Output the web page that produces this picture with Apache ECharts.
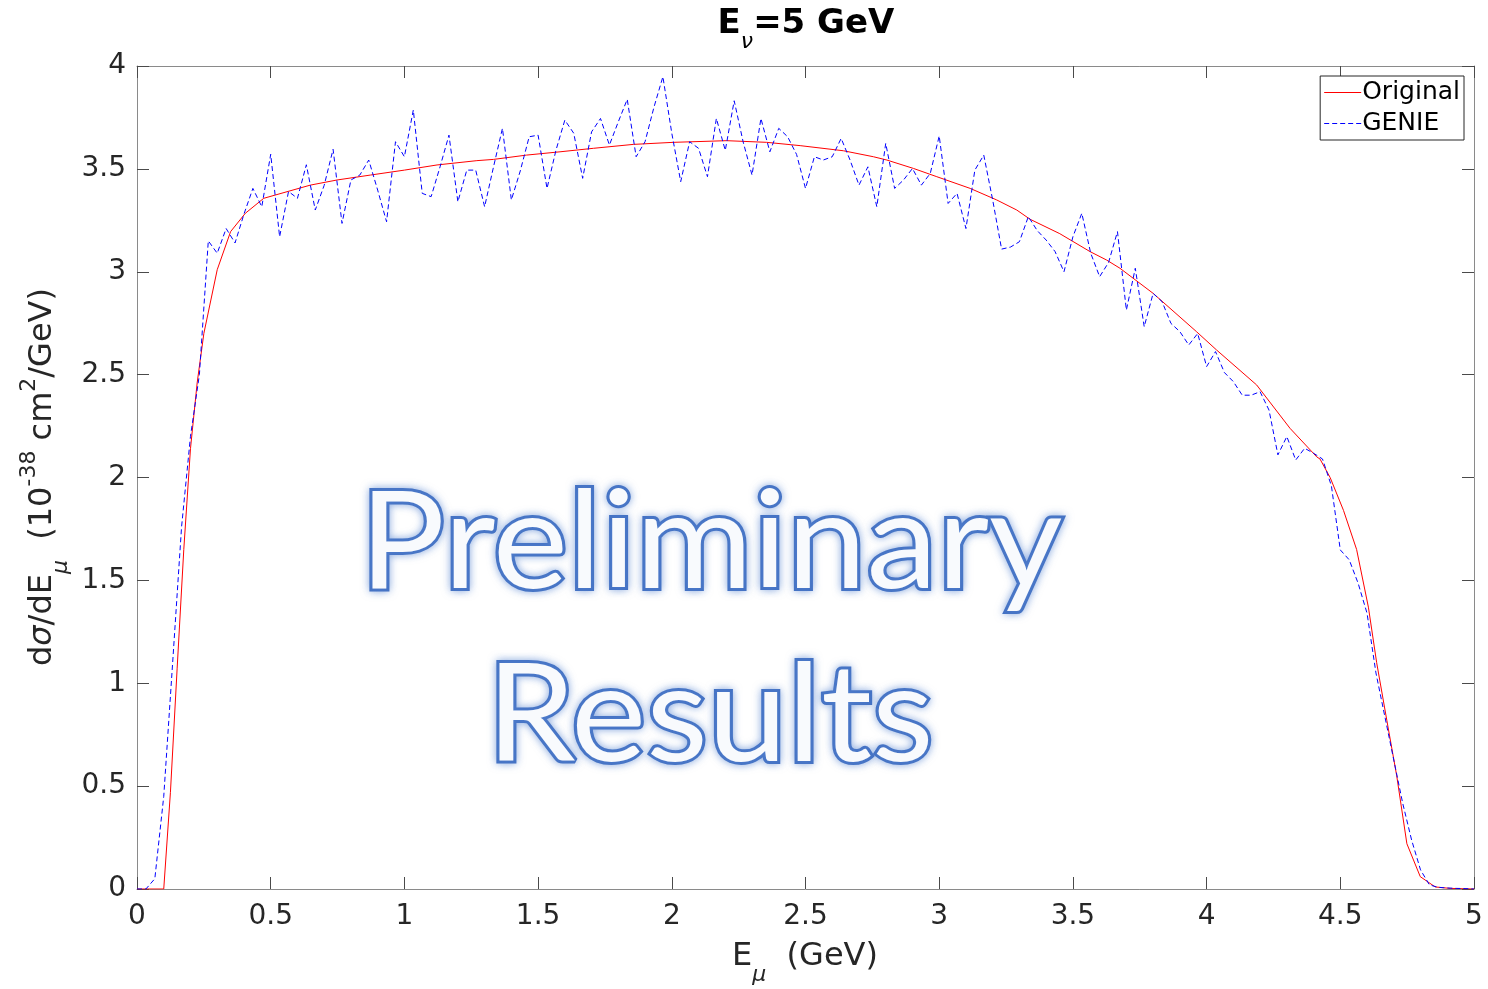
<!DOCTYPE html>
<html>
<head>
<meta charset="utf-8">
<script src="https://cdn.jsdelivr.net/npm/echarts@6/dist/echarts.min.js"></script>
<style>
html,body{margin:0;padding:0;background:#fff;}
#chart{width:1488px;height:989px;}
</style>
</head>
<body>
<div id="chart"></div>
<script>
// ---------------- data ----------------
const seriesNames = ['Original', 'GENIE'];
const xRange = [0, 5];
const xStep = 0.5;
const yRange = [0, 4];
const yStep = 0.5;

// "Original" curve (smooth, red)
const originalE = [0, 0.1, 0.125, 0.15, 0.175, 0.2, 0.225, 0.25, 0.3, 0.35, 0.405, 0.474, 0.561, 0.648, 0.748, 0.873,
  1.0, 1.122, 1.271, 1.333, 1.457, 1.582, 1.707, 1.856, 2.006, 2.205, 2.355, 2.48, 2.642, 2.754, 2.804, 2.904,
  2.991, 3.116, 3.215, 3.29, 3.34, 3.451, 3.564, 3.626, 3.676, 3.8, 3.962, 4.037, 4.187, 4.312, 4.412, 4.424,
  4.462, 4.512, 4.561, 4.605, 4.636, 4.674, 4.711, 4.749, 4.799, 4.855, 4.911, 5.0];
const originalXS = [0, 0, 0.47, 1.07, 1.65, 2.14, 2.46, 2.70, 3.01, 3.195, 3.284, 3.357, 3.389, 3.421, 3.446, 3.47,
  3.494, 3.519, 3.54, 3.546, 3.567, 3.583, 3.60, 3.619, 3.629, 3.637, 3.629, 3.613, 3.588, 3.559, 3.543, 3.502,
  3.462, 3.405, 3.349, 3.30, 3.255, 3.185, 3.098, 3.057, 3.017, 2.895, 2.709, 2.62, 2.45, 2.239, 2.10, 2.09,
  2.0, 1.84, 1.65, 1.37, 1.10, 0.82, 0.55, 0.22, 0.06, 0.01, 0.003, 0];

// "GENIE" histogram (blue dashed), one value per point, spaced 1/30 GeV from 0 to 5 GeV
const genieBinWidth = 1 / 30;
const genieXS = [
  0, 0, 0.05, 0.45, 1.1, 1.76, 2.2, 2.5, 3.15, 3.09,
  3.21, 3.14, 3.28, 3.405, 3.316, 3.571, 3.17, 3.39, 3.357, 3.52,
  3.30, 3.42, 3.595, 3.235, 3.446, 3.47, 3.543, 3.397, 3.243, 3.632,
  3.559, 3.786, 3.381, 3.365, 3.51, 3.664, 3.34, 3.494, 3.494, 3.316,
  3.51, 3.697, 3.349, 3.49, 3.656, 3.664, 3.405, 3.59, 3.737, 3.673,
  3.454, 3.68, 3.745, 3.616, 3.729, 3.838, 3.559, 3.632, 3.80, 3.948,
  3.673, 3.438, 3.632, 3.60, 3.462, 3.745, 3.59, 3.831, 3.632, 3.47,
  3.745, 3.583, 3.697, 3.656, 3.57, 3.405, 3.559, 3.543, 3.559, 3.648,
  3.543, 3.421, 3.51, 3.316, 3.624, 3.405, 3.446, 3.502, 3.421, 3.478,
  3.66, 3.332, 3.381, 3.21, 3.494, 3.567, 3.349, 3.11, 3.12, 3.146,
  3.268, 3.20, 3.154, 3.098, 3.0, 3.17, 3.284, 3.09, 2.976, 3.045,
  3.195, 2.814, 3.017, 2.733, 2.895, 2.855, 2.749, 2.709, 2.644, 2.70,
  2.539, 2.612, 2.51, 2.466, 2.40, 2.40, 2.417, 2.328, 2.11, 2.199,
  2.085, 2.142, 2.118, 2.09, 1.96, 1.648, 1.60, 1.486, 1.34, 1.05,
  0.838, 0.627, 0.417, 0.238, 0.093, 0.02, 0.008, 0.005, 0.003, 0.002,
  0
];

// ---------------- chart ----------------
const originalData = originalE.map((e, i) => [e, originalXS[i]]);
const genieData = genieXS.map((v, i) => [i * genieBinWidth, v]);

const FONT = 'DejaVu Sans';
const grid = {left: 137, right: 14, top: 66, bottom: 100};
const axisLineColor = '#8a8a8a';
const tickColor = '#4a4a4a';

function makeAxis(kind, pos, showLabels, range, step) {
  return {
    type: 'value', position: pos, min: range[0], max: range[1], interval: step,
    axisLine: {show: true, onZero: false, lineStyle: {color: axisLineColor, width: 1}},
    axisTick: {show: true, inside: true, length: 12, lineStyle: {color: tickColor, width: 1}},
    splitLine: {show: false},
    axisLabel: {show: showLabels, color: '#262626', fontFamily: FONT, fontSize: 28,
                margin: kind === 'x' ? 14 : 11},
  };
}

const subPad = [36, 0, 0, 0];
const supPad = [0, 0, 28, 0];

const solidIcon = 'path://M0,0h37v1.2h-37z';
const dashIcon = 'path://M0,0h5v1.2h-5zM8,0h5v1.2h-5zM16,0h5v1.2h-5zM24,0h5v1.2h-5zM32,0h5v1.2h-5z';

const watermarkStyle = {
  align: 'center', verticalAlign: 'middle',
  font: '135px Lato', fill: '#f8fafd', stroke: '#4472c4', lineWidth: 6,
  shadowBlur: 9, shadowColor: 'rgba(90,135,210,0.6)',
  textShadowBlur: 9, textShadowColor: 'rgba(90,135,210,0.6)'
};

const option = {
  animation: false,
  backgroundColor: '#ffffff',
  grid: grid,
  xAxis: [makeAxis('x', 'bottom', true, xRange, xStep), makeAxis('x', 'top', false, xRange, xStep)],
  yAxis: [makeAxis('y', 'left', true, yRange, yStep), makeAxis('y', 'right', false, yRange, yStep)],
  legend: {
    orient: 'vertical', right: 24, top: 76,
    data: [{name: seriesNames[0], icon: solidIcon}, {name: seriesNames[1], icon: dashIcon}],
    itemWidth: 37, itemHeight: 2, itemGap: 6,
    padding: [4, 4, 4, 4],
    borderColor: '#262626', borderWidth: 1, borderRadius: 0,
    backgroundColor: '#ffffff',
    textStyle: {fontFamily: FONT, fontSize: 25, color: '#000', padding: [0, 0, 0, -4]},
  },
  series: [
    {name: seriesNames[0], type: 'line', data: originalData, showSymbol: false, symbol: 'none',
     lineStyle: {color: '#ff0000', width: 1}, itemStyle: {color: '#ff0000'}, z: 2},
    {name: seriesNames[1], type: 'line', data: genieData, showSymbol: false, symbol: 'none',
     lineStyle: {color: '#0000ff', width: 1, type: [5, 3]}, itemStyle: {color: '#0000ff'}, z: 3},
  ],
  graphic: [
    { // title
      type: 'text', x: 806, y: 24, z: 10,
      style: {
        text: '{b|E}{s|ν}{b|=5 GeV}', align: 'center', verticalAlign: 'middle',
        rich: {
          b: {fontFamily: FONT, fontWeight: 'bold', fontSize: 34, fill: '#000'},
          s: {fontFamily: FONT, fontStyle: 'italic', fontSize: 22, fill: '#000', padding: subPad},
        }
      }
    },
    { // x axis name
      type: 'text', x: 805, y: 957, z: 10,
      style: {
        text: '{a|E}{s|μ}{a|  (GeV)}', align: 'center', verticalAlign: 'middle',
        rich: {
          a: {fontFamily: FONT, fontSize: 32, fill: '#262626'},
          s: {fontFamily: FONT, fontStyle: 'italic', fontSize: 22, fill: '#262626', padding: subPad},
        }
      }
    },
    { // y axis name
      type: 'text', x: 43, y: 477, rotation: Math.PI / 2, z: 10,
      style: {
        text: '{a|d}{i|σ}{a|/dE}{s|μ}{a|  (10}{p|-38}{a| cm}{p|2}{a|/GeV)}', align: 'center', verticalAlign: 'middle',
        rich: {
          a: {fontFamily: FONT, fontSize: 32, fill: '#262626'},
          i: {fontFamily: FONT, fontStyle: 'italic', fontSize: 32, fill: '#262626'},
          s: {fontFamily: FONT, fontStyle: 'italic', fontSize: 22, fill: '#262626', padding: subPad},
          p: {fontFamily: FONT, fontSize: 22, fill: '#262626', padding: supPad},
        }
      }
    },
    { // watermark line 1
      type: 'text', x: 711, y: 544, scaleX: 1.055, z: 20,
      style: Object.assign({text: 'Preliminary'}, watermarkStyle)
    },
    { // watermark line 2
      type: 'text', x: 710, y: 717, scaleX: 1.055, z: 20,
      style: Object.assign({text: 'Results'}, watermarkStyle)
    },
  ]
};

const chart = echarts.init(document.getElementById('chart'), null, {renderer: 'canvas'});
chart.setOption(option);
</script>
</body>
</html>
